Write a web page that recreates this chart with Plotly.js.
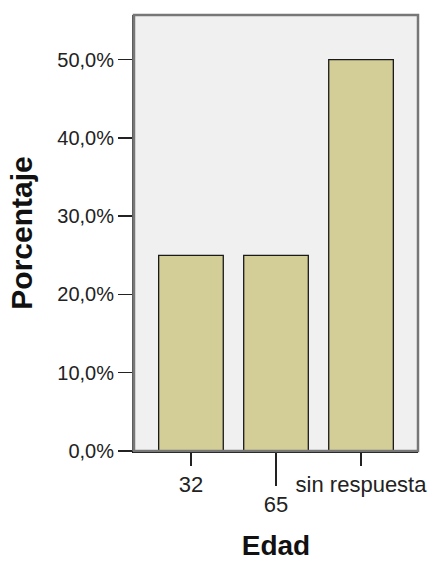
<!DOCTYPE html>
<html>
<head>
<meta charset="utf-8">
<script src="https://cdn.plot.ly/plotly-3.0.1.min.js"></script>
<style>html,body{margin:0;padding:0;background:#fff;}#chart{width:431px;height:561px;}</style>
</head>
<body>
<div id="chart"></div>
<script>
var categories = ['32', '65', 'sin respuesta'];
var percentages = [25, 25, 50];
var upperTicks = ['32', 'sin respuesta'];
var lowerTicks = ['65'];
var yTickValues = [0, 10, 20, 30, 40, 50];
var yTickLabels = ['0,0%', '10,0%', '20,0%', '30,0%', '40,0%', '50,0%'];

var font = 'Liberation Sans, Arial, sans-serif';

var data = [
  {
    type: 'bar',
    x: categories,
    y: percentages,
    width: 0.76,
    marker: {color: '#d3ce98', line: {color: '#1a1a1a', width: 1.3}},
    hoverinfo: 'skip'
  },
  {
    type: 'scatter',
    mode: 'markers',
    x: categories,
    y: percentages,
    xaxis: 'x2',
    marker: {opacity: 0},
    hoverinfo: 'skip',
    showlegend: false
  }
];

var layout = {
  width: 431,
  height: 561,
  margin: {l: 134, r: 13, t: 15, b: 110},
  paper_bgcolor: '#ffffff',
  plot_bgcolor: '#f0f0f0',
  showlegend: false,
  font: {family: font, color: '#222', size: 20},
  xaxis: {
    type: 'category',
    categoryarray: categories,
    range: [-0.67, 2.67],
    tickmode: 'array',
    tickvals: upperTicks,
    ticks: 'outside',
    ticklen: 13,
    tickwidth: 1.5,
    tickcolor: '#222',
    showline: true,
    linecolor: '#111',
    linewidth: 1.5,
    showgrid: false,
    zeroline: false,
    tickfont: {family: font, size: 22, color: '#222'},
    title: {text: 'Edad', font: {family: font, size: 28, color: '#111', weight: 'bold'}, standoff: 44},
    automargin: false
  },
  xaxis2: {
    type: 'category',
    categoryarray: categories,
    overlaying: 'x',
    anchor: 'y',
    side: 'bottom',
    range: [-0.67, 2.67],
    tickmode: 'array',
    tickvals: lowerTicks,
    ticks: 'outside',
    ticklen: 34,
    tickwidth: 1.5,
    tickcolor: '#222',
    showline: false,
    showgrid: false,
    zeroline: false,
    tickfont: {family: font, size: 22, color: '#222'},
    automargin: false
  },
  yaxis: {
    range: [0, 55.7],
    tickmode: 'array',
    tickvals: yTickValues,
    ticktext: yTickLabels,
    ticks: 'outside',
    ticklen: 14,
    tickwidth: 1.5,
    tickcolor: '#222',
    showline: true,
    linecolor: '#555',
    linewidth: 2,
    showgrid: false,
    zeroline: false,
    tickfont: {family: font, size: 20, color: '#222'},
    title: {text: 'Porcentaje', font: {family: font, size: 30, color: '#111', weight: 'bold'}, standoff: 16},
    automargin: false
  },
  shapes: [
    {type: 'rect', xref: 'paper', yref: 'paper', x0: 0, x1: 1, y0: 0, y1: 1,
     line: {color: '#777', width: 2.5}, layer: 'above'}
  ]
};

Plotly.newPlot('chart', data, layout, {displayModeBar: false, staticPlot: true});
</script>
</body>
</html>
